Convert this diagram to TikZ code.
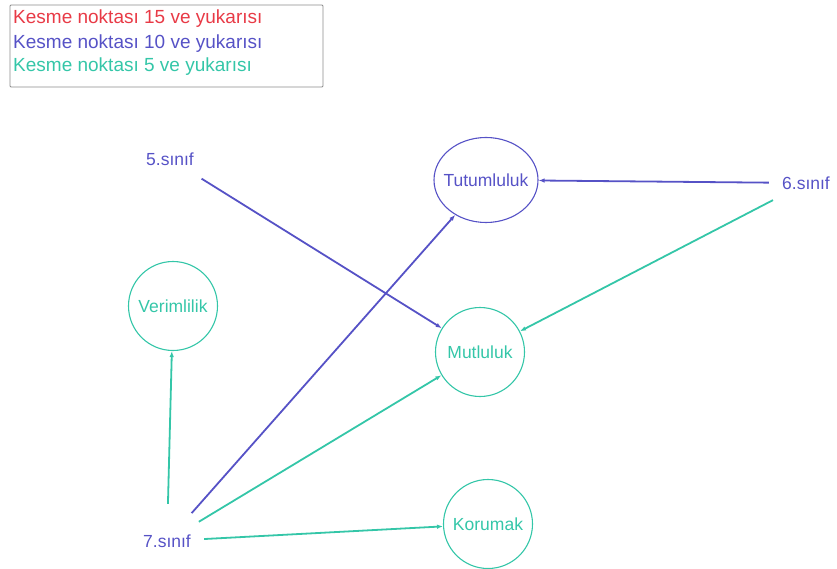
\documentclass[tikz,border=0pt]{standalone}
\usepackage{fontspec}
\setmainfont{Liberation Sans}
\usetikzlibrary{arrows.meta,shapes.geometric}
\definecolor{kRed}{RGB}{232,58,70}
\definecolor{kBlue}{RGB}{86,82,198}
\definecolor{kTeal}{RGB}{52,198,168}

\begin{document}
\begin{tikzpicture}[
  x=1pt,y=-1pt,
  font=\fontsize{17.5}{21}\selectfont,
  legbox/.style={draw=black!45,line width=0.9pt,rounded corners=1pt,
                 minimum width=313pt,minimum height=82pt,inner sep=0pt},
  legtxt/.style={anchor=west,inner sep=0pt,font=\fontsize{19}{22}\selectfont},
  grade/.style={circle,minimum size=74pt,inner sep=0pt,text=kBlue},
  trait/.style={circle,draw=kTeal,line width=1.1pt,minimum size=89pt,
                inner sep=0pt,text=kTeal},
  ar/.style={-{Latex[length=6pt,width=4.5pt]},line width=1.8pt}
]
\useasboundingbox (0,0) rectangle (837,569);
\node[legbox] (legend) at (166.5,46) {};
\node[legtxt,text=kRed] (lred) at (13,19) {Kesme noktası 15 ve yukarısı};
\node[legtxt,text=kBlue] (lblue) at (13,44) {Kesme noktası 10 ve yukarısı};
\node[legtxt,text=kTeal] (lteal) at (13,67) {Kesme noktası 5 ve yukarısı};

\node[grade] (s5) at (170,159) {5.sınıf};
\node[grade] (s6) at (806,183) {6.sınıf};
\node[grade] (s7) at (167,541) {7.sınıf};

\node[ellipse,draw=kBlue,line width=1.1pt,minimum width=104pt,minimum height=85pt,
      inner xsep=-8pt,inner ysep=0pt,text=kBlue] (tutum) at (486,180) {Tutumluluk};
\node[trait] (verim) at (173,306) {Verimlilik};
\node[trait] (mutlu) at (480,352) {Mutluluk};
\node[trait] (koru) at (488,524) {Korumak};

\draw[ar,kBlue] (s5) -- (mutlu);
\draw[ar,kBlue] (s6) -- (tutum);
\draw[ar,kTeal] (s6) -- (mutlu);
\draw[ar,kTeal] (s7) -- (verim);
\draw[ar,kBlue] (s7) -- (tutum);
\draw[ar,kTeal] (s7) -- (mutlu);
\draw[ar,kTeal] (s7) -- (koru);
\end{tikzpicture}
\end{document}
